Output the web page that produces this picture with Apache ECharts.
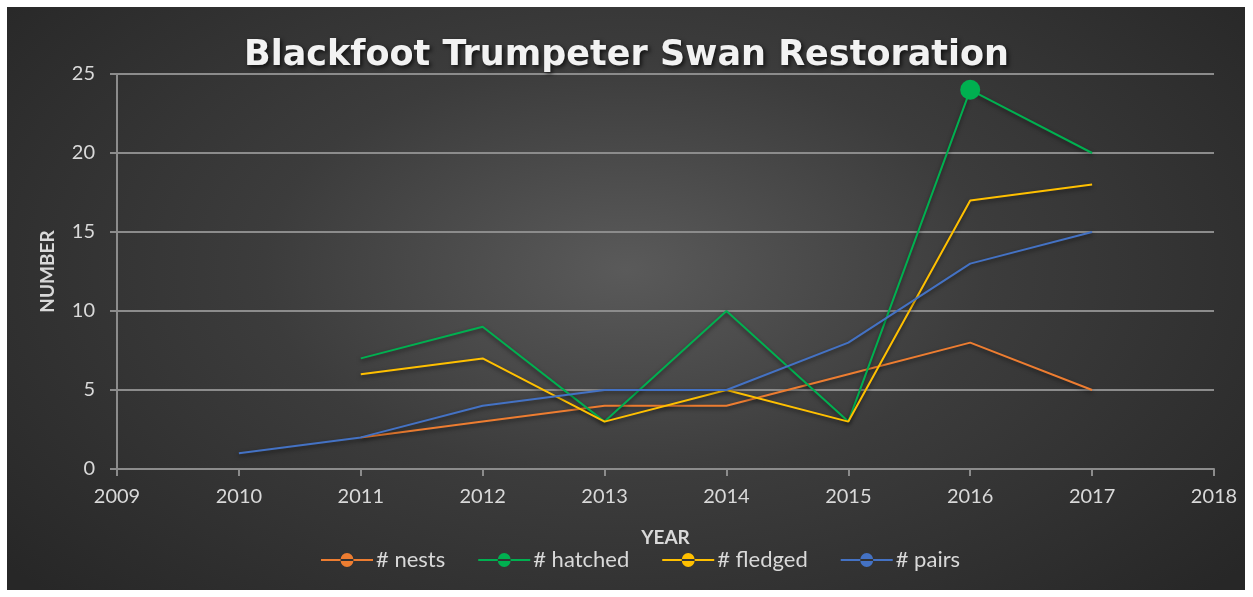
<!DOCTYPE html>
<html>
<head>
<meta charset="UTF-8">
<title>Blackfoot Trumpeter Swan Restoration</title>
<script src="https://cdn.jsdelivr.net/npm/echarts@6/dist/echarts.min.js"></script>
<style>
  html, body { margin: 0; padding: 0; background: #fff; }
  #bg {
    position: absolute; left: 7px; top: 7px; width: 1238px; height: 583px;
    background: radial-gradient(ellipse 65% 80% at 50% 45%, #5a5a5a 0%, #3c3c3c 45%, #272727 100%);
  }
  #main { position: absolute; left: 0; top: 0; width: 1253px; height: 597px; }
</style>
</head>
<body>
  <div id="bg"></div>
  <div id="main"></div>
  <script type="text/javascript">
    // data
    var years   = [2010, 2011, 2012, 2013, 2014, 2015, 2016, 2017];
    var nests   = [null, 2, 3, 4, 4, 6, 8, 5];
    var hatched = [null, 7, 9, 3, 10, 3, 24, 20];
    var fledged = [null, 6, 7, 3, 5, 3, 17, 18];
    var pairs   = [1, 2, 4, 5, 5, 8, 13, 15];
    var seriesNames = ['# nests', '# hatched', '# fledged', '# pairs'];
    var colors = ['#ED7D31', '#00B050', '#FFC000', '#4472C4'];
    var highlightYear = 2016; // the one point Excel shows a marker on (# hatched)

    var textColor = '#d9d9d9';
    var lineColor = '#8c8c8c';
    // line-with-dot legend key, like Excel's
    var legendIcon = 'path://M0,6.1H52V7.9H0Z M19.5,7 A6.5,7 0 1,0 32.5,7 A6.5,7 0 1,0 19.5,7Z';

    function pairsOf(vals, markYear) {
      var out = [];
      for (var i = 0; i < years.length; i++) {
        if (vals[i] == null) continue;
        if (years[i] === markYear) {
          out.push({ value: [years[i], vals[i]], symbol: 'circle', symbolSize: 20 });
        } else {
          out.push([years[i], vals[i]]);
        }
      }
      return out;
    }

    var allVals = [nests, hatched, fledged, pairs];
    var series = [];
    for (var s = 0; s < allVals.length; s++) {
      series.push({
        name: seriesNames[s],
        type: 'line',
        symbol: 'none',
        itemStyle: { color: colors[s] },
        lineStyle: {
          color: colors[s], width: 2,
          shadowColor: 'rgba(0,0,0,0.55)', shadowBlur: 4, shadowOffsetY: 2
        },
        emphasis: { disabled: true },
        data: pairsOf(allVals[s], s === 1 ? highlightYear : null)
      });
    }

    var myChart = echarts.init(document.getElementById('main'));
    var option = {
      backgroundColor: 'transparent',
      animation: false,
      title: {
        text: 'Blackfoot Trumpeter Swan Restoration',
        left: 'center',
        top: 33,
        textStyle: {
          fontFamily: 'DejaVu Sans', fontWeight: 'bold', fontSize: 35, color: '#f2f2f2',
          textShadowColor: 'rgba(0,0,0,0.7)', textShadowBlur: 4, textShadowOffsetX: 2, textShadowOffsetY: 2
        }
      },
      legend: {
        bottom: 21,
        left: 316,
        itemWidth: 52,
        itemHeight: 14,
        itemGap: 33,
        data: seriesNames.map(function (n) { return { name: n, icon: legendIcon }; }),
        textStyle: { color: textColor, fontFamily: 'Lato', fontSize: 22, padding: [0, 0, 0, -2] }
      },
      grid: { left: 117, right: 39, top: 74, bottom: 128 },
      xAxis: {
        type: 'value',
        min: 2009, max: 2018, interval: 1,
        name: 'YEAR',
        nameLocation: 'middle',
        nameGap: 59,
        nameTextStyle: { color: textColor, fontFamily: 'Lato', fontWeight: 'bold', fontSize: 19 },
        axisLine: { show: true, lineStyle: { color: lineColor, width: 2 } },
        axisTick: { show: true, length: 7, lineStyle: { color: lineColor, width: 2 } },
        axisLabel: {
          color: textColor, fontFamily: 'Lato', fontSize: 20, margin: 18,
          formatter: function (v) { return String(v); }
        },
        splitLine: { show: false }
      },
      yAxis: {
        type: 'value',
        min: 0, max: 25, interval: 5,
        name: 'NUMBER',
        nameLocation: 'middle',
        nameGap: 60,
        nameTextStyle: { color: textColor, fontFamily: 'Lato', fontWeight: 'bold', fontSize: 19 },
        axisLine: { show: true, lineStyle: { color: lineColor, width: 2 } },
        axisTick: { show: true, length: 7, lineStyle: { color: lineColor, width: 2 } },
        axisLabel: { color: textColor, fontFamily: 'Lato', fontSize: 20, margin: 22 },
        splitLine: { show: true, lineStyle: { color: lineColor, width: 2 } }
      },
      series: series
    };
    myChart.setOption(option);
  </script>
</body>
</html>
